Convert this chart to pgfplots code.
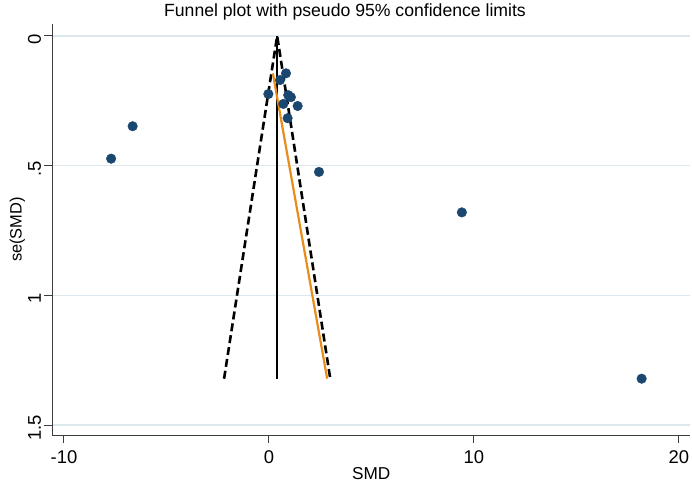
\documentclass[border=0pt]{standalone}
\usepackage{pgfplots}
\pgfplotsset{compat=1.18}
\usepackage{fontspec}
\setmainfont{Liberation Sans}
\definecolor{stnavy}{RGB}{26,71,111}
\definecolor{storange}{RGB}{232,140,30}
\definecolor{stgrid}{RGB}{220,232,238}
\definecolor{staxis}{RGB}{60,60,60}
\begin{document}
\begin{tikzpicture}
\begin{axis}[
  name=a,
  scale only axis,
  width=637.5bp, height=411bp,
  xmin=-10.56, xmax=20.54,
  ymin=-0.046, ymax=1.538,
  y dir=reverse,
  axis x line*=bottom, axis y line*=left,
  axis line style={staxis, line width=1bp, -},
  xtick={-10,0,10,20}, xticklabels={-10,0,10,20},
  ytick={0,0.5,1,1.5}, yticklabels={0,.5,1,1.5},
  tick align=outside, major tick length=8bp,
  tick style={staxis, line width=1bp},
  ymajorgrids, grid style={stgrid, line width=1.6bp},
  xticklabel style={font=\fontsize{18.5}{18.5}\selectfont, yshift=-4bp},
  yticklabel style={font=\fontsize{18.5}{18.5}\selectfont, rotate=90, anchor=south, xshift=-3bp},
  xlabel={SMD}, ylabel={se(SMD)},
  xlabel style={font=\fontsize{17.3}{17.3}\selectfont, yshift=3bp},
  ylabel style={font=\fontsize{16.5}{16.5}\selectfont, yshift=-4bp},
  clip=false,
]
\addplot[black, line width=2.6bp, dash pattern=on 8bp off 4bp] coordinates {(-2.19,1.321) (0.40,0) (2.99,1.321)};
\addplot[black, line width=1.8bp] coordinates {(0.40,0) (0.40,1.322)};
\addplot[storange, line width=2.2bp] coordinates {(0.19,0.144) (2.84,1.321)};
\addplot[only marks, mark=*, mark size=4.8bp, mark options={fill=stnavy, draw=stnavy}] coordinates {
(-7.7,0.473) (-6.65,0.348) (2.44,0.524) (9.41,0.68) (18.18,1.321)
(0.83,0.144) (0.54,0.170) (-0.03,0.224) (0.94,0.228) (1.07,0.236)
(0.70,0.262) (1.40,0.270) (0.91,0.317)
};
\end{axis}
\node[font=\fontsize{17.7}{17.7}\selectfont, anchor=base] at ([xshift=-52.5bp+345bp, yshift=24bp-16.7bp]a.north west) {Funnel plot with pseudo 95\% confidence limits};
\pgfresetboundingbox
\path ([xshift=-52.5bp, yshift=-50bp]a.south west) rectangle ([xshift=2bp, yshift=24bp]a.north east);
\end{tikzpicture}
\end{document}
